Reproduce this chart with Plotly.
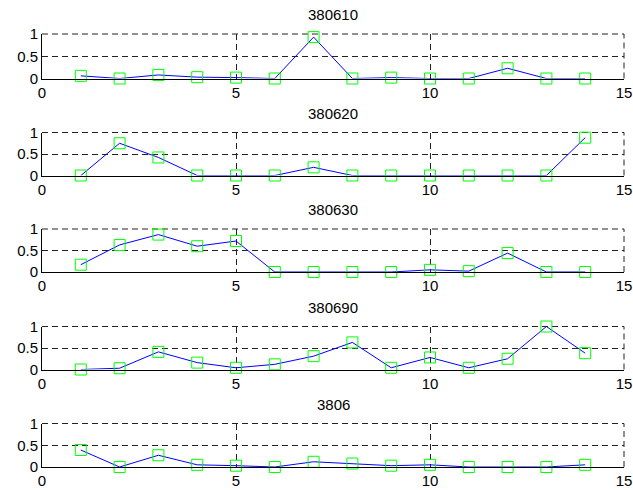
import plotly.graph_objects as go

W, H = 633, 490

titles = ["380610", "380620", "380630", "380690", "3806"]
x_vals = list(range(1, 15))
s380610 = [0.06, 0.0, 0.08, 0.03, 0.02, 0.0, 0.93, 0.0, 0.02, 0.0, 0.0, 0.23, 0.0, 0.0]
s380620 = [0.0, 0.75, 0.42, 0.0, 0.0, 0.0, 0.19, 0.0, 0.0, 0.0, 0.0, 0.0, 0.0, 0.88]
s380630 = [0.17, 0.63, 0.87, 0.6, 0.72, 0.0, 0.0, 0.0, 0.0, 0.05, 0.02, 0.44, 0.0, 0.0]
s380690 = [0.0, 0.03, 0.41, 0.16, 0.04, 0.12, 0.31, 0.63, 0.04, 0.28, 0.04, 0.25, 1.0, 0.38]
s3806 = [0.39, 0.0, 0.27, 0.05, 0.03, 0.0, 0.12, 0.08, 0.03, 0.05, 0.0, 0.0, 0.0, 0.05]
series = [s380610, s380620, s380630, s380690, s3806]

x_ticks = [0, 5, 10, 15]
y_ticks = [0, 0.5, 1]

# pixel layout (top, bottom) of each axes box
tops = [34, 132.5, 229, 326.5, 423.5]
bottoms = [78.5, 175.5, 272, 369.5, 467]
left_px, right_px = 42, 624

FONT = "Arial, Liberation Sans, sans-serif"
DASH = "6px,4px"
GRID = "#222222"
fig = go.Figure()
layout = dict(
    width=W, height=H, margin=dict(l=0, r=0, t=0, b=0, autoexpand=False),
    paper_bgcolor="white", plot_bgcolor="white", showlegend=False,
    font=dict(family=FONT, size=15, color="black"),
    annotations=[], shapes=[],
)
for i, (t, ys) in enumerate(zip(titles, series)):
    n = i + 1
    xa = "x" if n == 1 else f"x{n}"
    ya = "y" if n == 1 else f"y{n}"
    fig.add_trace(go.Scatter(
        x=x_vals, y=ys, xaxis=xa, yaxis=ya, mode="lines+markers",
        line=dict(color="#0000ff", width=1),
        marker=dict(symbol="square-open", size=11, color="#00ff00",
                    line=dict(color="#00ff00", width=1)),
        cliponaxis=False,
    ))
    ydom = [1 - bottoms[i] / H, 1 - tops[i] / H]
    xkey = "xaxis" if n == 1 else f"xaxis{n}"
    ykey = "yaxis" if n == 1 else f"yaxis{n}"
    layout[xkey] = dict(
        domain=[left_px / W, right_px / W], anchor=ya, range=[0, 15],
        tickvals=x_ticks, ticktext=[str(v) for v in x_ticks],
        showgrid=True, gridcolor=GRID, griddash=DASH, gridwidth=1,
        zeroline=False, showline=True, linecolor="black", linewidth=1,
        ticks="", tickfont=dict(size=15, family=FONT), automargin=False,
    )
    layout[ykey] = dict(
        domain=ydom, anchor=xa, range=[0, 1],
        tickvals=y_ticks, ticktext=["0", "0.5", "1"],
        showgrid=True, gridcolor=GRID, griddash=DASH, gridwidth=1,
        zeroline=False, showline=True, linecolor="black", linewidth=1,
        ticks="", tickfont=dict(size=15, family=FONT), automargin=False,
    )
    # top and right dashed borders (grid lines at range ends)
    layout["shapes"].append(dict(
        type="line", xref=f"{xa} domain", yref=f"{ya} domain",
        x0=0, x1=1, y0=1, y1=1, line=dict(color=GRID, width=1, dash=DASH),
        layer="below",
    ))
    layout["shapes"].append(dict(
        type="line", xref=f"{xa} domain", yref=f"{ya} domain",
        x0=1, x1=1, y0=0, y1=1, line=dict(color=GRID, width=1, dash=DASH),
        layer="below",
    ))
    layout["annotations"].append(dict(
        text=t, x=(left_px + right_px) / 2 / W, xref="paper",
        y=ydom[1], yref="paper", yanchor="bottom", xanchor="center",
        yshift=9, showarrow=False, font=dict(size=15, family=FONT),
    ))

fig.update_layout(**layout)
fig.write_html(
    "out.html",
    config={"displayModeBar": False},
    post_script="document.body.style.margin='0';document.body.style.overflow='hidden';",
)
